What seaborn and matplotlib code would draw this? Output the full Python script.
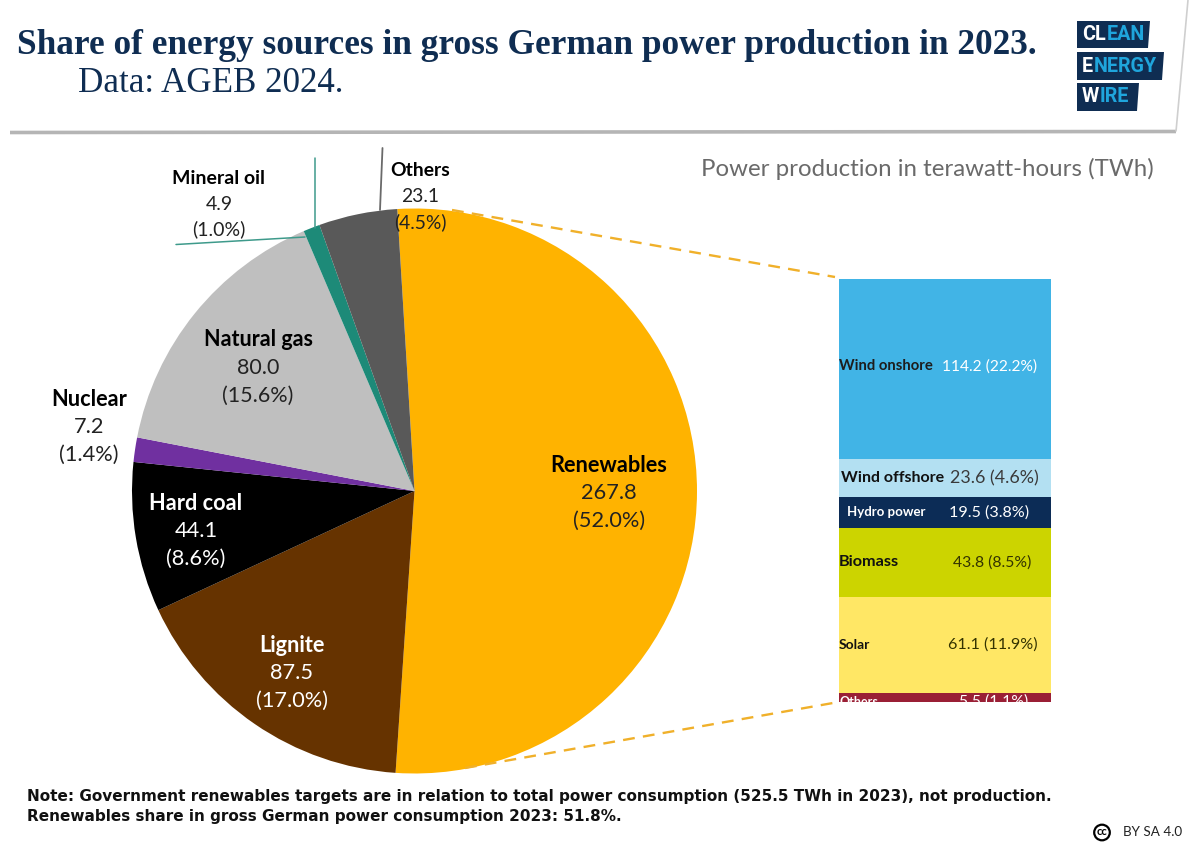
import matplotlib
matplotlib.use("Agg")
import matplotlib.pyplot as plt
from matplotlib.patches import Polygon, Circle
import seaborn as sns

# datos del grafico
fuentes = ["Renewables", "Lignite", "Hard coal", "Nuclear", "Natural gas", "Mineral oil", "Others"]
twh = [267.8, 87.5, 44.1, 7.2, 80.0, 4.9, 23.1]
pct = ["52.0", "17.0", "8.6", "1.4", "15.6", "1.0", "4.5"]
colores = ["#FFB300", "#663300", "#000000", "#7030A0", "#BFBFBF", "#1D8A78", "#595959"]

renov = ["Others", "Solar", "Biomass", "Hydro power", "Wind offshore", "Wind onshore"]
renov_twh = [5.5, 61.1, 43.8, 19.5, 23.6, 114.2]
renov_pct = ["1.1", "11.9", "8.5", "3.8", "4.6", "22.2"]
renov_col = ["#9A1F35", "#FFE765", "#CCD400", "#0C2C56", "#B3E0F2", "#41B4E6"]

sns.set_theme(style="white")
plt.rcParams["font.family"] = ["Lato", "DejaVu Sans"]
W, H = 1200, 848
NAVY = "#0F2D52"
GOLD = "#F0B02A"
GRIS = "#222222"

fig = plt.figure(figsize=(W / 100, H / 100), dpi=100, facecolor="white")


def caja(x0, y0, x1, y1):
    return [x0 / W, 1 - y1 / H, (x1 - x0) / W, (y1 - y0) / H]


# pie
cx, cy, r = 414.5, 491, 282.5
ax_pie = fig.add_axes(caja(cx - r, cy - r, cx + r, cy + r))
ax_pie.pie(twh, colors=colores, startangle=93.5, counterclock=False, radius=1, wedgeprops={"linewidth": 0})
ax_pie.set_xlim(-1, 1)
ax_pie.set_ylim(-1, 1)

# columna apilada
ax_bar = fig.add_axes(caja(839, 279, 1051, 702))
base = 0
for nombre, v, c in zip(renov, renov_twh, renov_col):
    sns.barplot(x=[0], y=[v], bottom=base, color=c, saturation=1, width=1, linewidth=0, ax=ax_bar)
    base += v
ax_bar.set_xlim(-0.5, 0.5)
ax_bar.set_ylim(0, base)
ax_bar.axis("off")

# estilo de cada rotulo: x nombre, tamano nombre, color nombre, x valor, tamano valor, color valor, ajuste y
estilo = {
    "Wind onshore": (-0.5, 10.7, "#1d1d1d", 0.21, 11.2, "white", 2),
    "Wind offshore": (-0.49, 11.5, "#111111", 0.2335, 12.9, "#3a3a3a", 0),
    "Hydro power": (-0.46, 9.5, "white", 0.21, 11.6, "white", 0),
    "Biomass": (-0.5, 11.7, "#111111", 0.224, 11.3, "#333300", 0),
    "Solar": (-0.5, 9.9, "#111111", 0.224, 11.6, "#333300", 0),
    "Others": (-0.5, 9.0, "white", 0.23, 11.3, "white", -2.6),
}
base = 0
for nombre, v, p in zip(renov, renov_twh, renov_pct):
    xn, fn, cn, xv, fv, cv, dy = estilo[nombre]
    ym = base + v / 2 + dy
    ax_bar.text(xn, ym, nombre, fontsize=fn, fontweight="bold", color=cn, ha="left", va="center", clip_on=True)
    ax_bar.text(xv, ym, f"{v} ({p}%)", fontsize=fv, color=cv, ha="center", va="center", clip_on=True)
    base += v

# capa superior en pixeles
ov = fig.add_axes([0, 0, 1, 1], facecolor="none")
ov.set_xlim(0, W)
ov.set_ylim(H, 0)
ov.axis("off")


def txt(x, y, s, **kw):
    kw.setdefault("ha", "center")
    kw.setdefault("va", "center")
    kw.setdefault("color", GRIS)
    return ov.text(x, y, s, **kw)


# cabecera
ov.plot([10, 1176], [132.5, 131.5], color="#B5B5B5", lw=2.6, solid_capstyle="butt")
ov.plot([1176, 1188], [131.5, 0], color="#CFCFCF", lw=1.2, solid_capstyle="butt")
txt(17, 46, "Share of energy sources in gross German power production in 2023.", ha="left",
    family="Liberation Serif", fontweight="bold", fontsize=25.4, color=NAVY)
txt(78, 84, "Data: AGEB 2024.", ha="left", family="Liberation Serif", fontsize=25.2, color=NAVY)

# logo
logo = [(21, 48, 1077, 1150, 1148, "CL", "EAN"), (52, 80, 1077, 1164, 1162, "E", "NERGY"), (83, 111, 1077, 1139, 1137, "W", "IRE")]
fig.canvas.draw()
rend = fig.canvas.get_renderer()
for y0, y1, x0, xa, xb, t1, t2 in logo:
    ov.add_patch(Polygon([(x0, y0), (xa, y0), (xb, y1), (x0, y1)], facecolor=NAVY, edgecolor="none"))
    a = txt(x0 + 5, (y0 + y1) / 2, t1, ha="left", family="Roboto", fontweight="bold", fontsize=14.2, color="white")
    bb = a.get_window_extent(rend)
    txt(bb.x1 + 0.5, (y0 + y1) / 2, t2, ha="left", family="Roboto", fontweight="bold", fontsize=14.2, color="#1FA5DC")

txt(927, 169, "Power production in terawatt-hours (TWh)", fontsize=17.3, color="#6A6A6A")


# etiquetas del pie
def etiqueta(x, y0, dy, nombre, valor, p, fs, col=GRIS):
    txt(x, y0, nombre, fontsize=fs, fontweight="bold", color="black" if col == GRIS else col)
    txt(x, y0 + dy, valor, fontsize=fs, color=col)
    txt(x, y0 + 2 * dy, f"({p}%)", fontsize=fs, color=col)


etiqueta(609, 465, 28, fuentes[0], twh[0], pct[0], 15.7)
etiqueta(292, 645, 28, fuentes[1], twh[1], pct[1], 15.7, "white")
etiqueta(196, 503, 28, fuentes[2], twh[2], pct[2], 15.7, "white")
etiqueta(89, 399, 28, fuentes[3], twh[3], pct[3], 15.7)
etiqueta(258, 340, 28, fuentes[4], twh[4], pct[4], 15.5)
etiqueta(219, 179, 25, fuentes[5], twh[5], pct[5], 14)
etiqueta(420, 171, 25.5, fuentes[6], twh[6], pct[6], 13.9)

# lineas guia
ov.plot([315, 315], [158, 228], color="#3E9A8B", lw=1.1)
ov.plot([176, 305], [244.5, 237], color="#3E9A8B", lw=1.1)
ov.plot([382.5, 380], [148, 210], color="#6A6A6A", lw=1.3)
ov.plot([452, 835], [210, 277], color=GOLD, lw=1.7, ls=(0, (5, 3.5)))
ov.plot([465, 833], [768, 703], color=GOLD, lw=1.7, ls=(0, (5, 3.5)))

# nota
txt(27, 797, "Note: Government renewables targets are in relation to total power consumption (525.5 TWh in 2023), not production.",
    ha="left", family="DejaVu Sans", fontweight="bold", fontsize=11.02, color="#111111")
txt(27, 816, "Renewables share in gross German power consumption 2023: 51.8%.",
    ha="left", family="DejaVu Sans", fontweight="bold", fontsize=11.02, color="#111111")

# licencia
ov.add_patch(Circle((1102, 832.5), 7.8, facecolor="white", edgecolor="black", lw=1.6))
txt(1102, 831.5, "cc", fontsize=8, fontweight="bold", color="black")
txt(1152.5, 832, "BY SA 4.0", fontsize=9.7, color="#222222")

fig.savefig("out.png", dpi=100)
